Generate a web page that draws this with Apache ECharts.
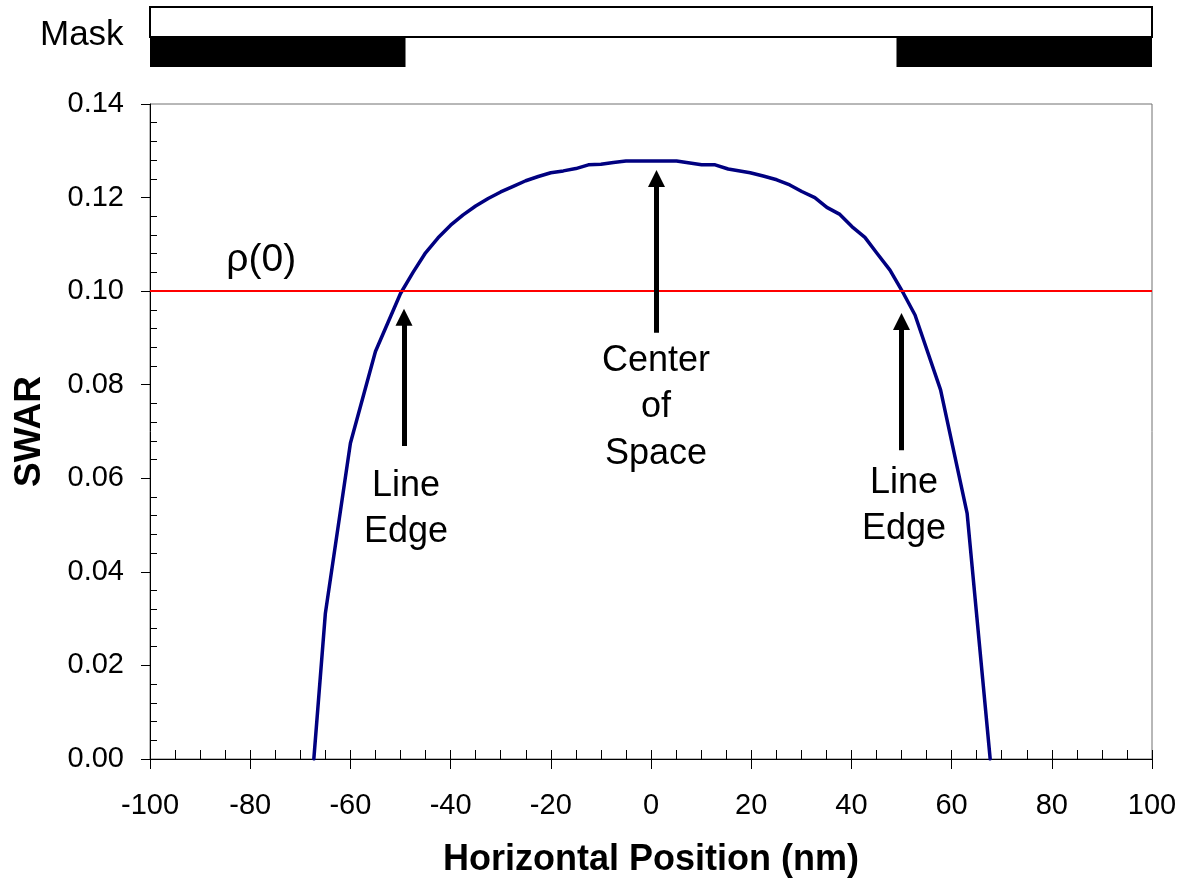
<!DOCTYPE html>
<html><head><meta charset="utf-8">
<script src="https://cdn.jsdelivr.net/npm/echarts@6/dist/echarts.min.js"></script>
<style>html,body{margin:0;padding:0;background:#fff}#c{width:1188px;height:884px}</style>
</head><body><div id="c"></div>
<script>
// ---- data ----
const positionNm = [-67.3, -65.0, -60.0, -55.0, -50.0, -47.5, -45.0, -42.5, -40.0, -37.5, -35.0, -32.5, -30.0, -27.5, -25.0, -22.5, -20.0, -17.5, -15.0, -12.5, -10.0, -7.5, -5.0, -2.5, 0.0, 2.5, 5.1, 10.1, 12.8, 15.4, 19.8, 22.4, 25.1, 27.7, 30.1, 32.7, 35.1, 37.7, 40.1, 42.7, 45.1, 47.7, 50.4, 52.7, 57.8, 63.1, 67.7];
const swar = [0.0, 0.0311, 0.0675, 0.0871, 0.0995, 0.1040, 0.1082, 0.1114, 0.1141, 0.1163, 0.1182, 0.1198, 0.1212, 0.1224, 0.1236, 0.1245, 0.1253, 0.1257, 0.1262, 0.1270, 0.1271, 0.1275, 0.1278, 0.1278, 0.1278, 0.1278, 0.1278, 0.1270, 0.1270, 0.1261, 0.1253, 0.1246, 0.1238, 0.1227, 0.1213, 0.1200, 0.1179, 0.1164, 0.1138, 0.1115, 0.1081, 0.1045, 0.0995, 0.0949, 0.0789, 0.0525, 0.0];
const rho0 = 0.10;
const xRange = [-100, 100];
const yRange = [0, 0.14];
const maskBand = [-100, 100];
const maskOpaque = [[-100, -49], [49, 100]];
const arrowX = [-49.3, 1.1, 50.0];
const arrowFrom = [0.0669, 0.0911, 0.0660];
const arrowTo = [0.0944, 0.1241, 0.0935];
const noteText = ['Line\nEdge', 'Center\nof\nSpace', 'Line\nEdge', 'ρ(0)'];
const noteX = [-48.9, 1.0, 50.5, -77.8];
const noteY = [0.0533, 0.0751, 0.0539, 0.1064];

// ---- chart ----
const FONT = '"Liberation Sans", Arial, sans-serif';
const chart = echarts.init(document.getElementById('c'), null, {renderer: 'canvas'});
const G = {left: 150, right: 36, top: 104, bottom: 125};
const lineCurve = positionNm.map((x, i) => [x, swar[i]]);
const maskData = [[maskBand[0], maskBand[1], 1, 2, 0]].concat(maskOpaque.map(s => [s[0], s[1], 0, 1, 1]));
const arrowLines = arrowX.map((x, i) => [{coord: [x, arrowFrom[i]]}, {coord: [x, arrowTo[i]]}]);
const notes = noteText.map((t, i) => ({value: [noteX[i], noteY[i]], name: t,
  label: {fontSize: t.indexOf('ρ') >= 0 ? 39 : 36}}));

chart.setOption({
  animation: false,
  textStyle: {fontFamily: FONT, color: '#000'},
  grid: [
    Object.assign({show: true, borderColor: '#707070', borderWidth: 1, backgroundColor: 'transparent'}, G),
    Object.assign({show: false}, G),
    {left: 150, right: 36, top: 7, height: 60, show: false}
  ],
  xAxis: [
    {gridIndex: 0, type: 'value', min: xRange[0], max: xRange[1], interval: 20,
     name: 'Horizontal Position (nm)', nameLocation: 'middle', nameGap: 83,
     nameTextStyle: {fontSize: 36, fontWeight: 'bold', color: '#000', fontFamily: FONT},
     axisLine: {show: true, onZero: false, lineStyle: {color: '#000', width: 1}},
     axisTick: {show: true, inside: false, length: 10, lineStyle: {color: '#000', width: 1}},
     axisLabel: {fontSize: 29, color: '#000', margin: 32, fontFamily: FONT},
     splitLine: {show: false}},
    {gridIndex: 1, type: 'value', min: xRange[0], max: xRange[1], interval: 20,
     axisLine: {show: false, onZero: false},
     axisTick: {show: true, inside: true, length: 9, lineStyle: {color: '#000', width: 1}},
     minorTick: {show: true, splitNumber: 4, length: 9, lineStyle: {color: '#000', width: 1}},
     axisLabel: {show: false}, splitLine: {show: false}},
    {gridIndex: 2, type: 'value', min: xRange[0], max: xRange[1], show: false}
  ],
  yAxis: [
    {gridIndex: 0, type: 'value', min: yRange[0], max: yRange[1], interval: 0.02,
     name: 'SWAR', nameLocation: 'middle', nameGap: 102, nameRotate: 90,
     nameTextStyle: {fontSize: 37, fontWeight: 'bold', color: '#000', fontFamily: FONT},
     axisLine: {show: true, onZero: false, lineStyle: {color: '#000', width: 1}},
     axisTick: {show: true, inside: false, length: 9, lineStyle: {color: '#000', width: 1}},
     axisLabel: {fontSize: 29, color: '#000', margin: 26, fontFamily: FONT, formatter: v => v.toFixed(2)},
     splitLine: {show: false}},
    {gridIndex: 1, type: 'value', min: yRange[0], max: yRange[1], interval: 0.02,
     axisLine: {show: false, onZero: false},
     axisTick: {show: false, inside: true},
     minorTick: {show: true, splitNumber: 5, length: 7, lineStyle: {color: '#000', width: 1}},
     axisLabel: {show: false}, splitLine: {show: false}},
    {gridIndex: 2, type: 'value', min: 0, max: 2, show: false}
  ],
  graphic: [{
    type: 'text', left: 40, top: 18,
    style: {text: 'Mask', font: '35px ' + FONT, fill: '#000'}
  }],
  series: [
    {type: 'line', xAxisIndex: 0, yAxisIndex: 0, data: lineCurve, showSymbol: false, symbol: 'none',
     lineStyle: {color: '#000080', width: 3.5, cap: 'round', join: 'round'}, z: 2, silent: true,
     markLine: {silent: true, symbol: ['none', 'none'], label: {show: false}, z: 3,
       lineStyle: {color: '#ff0000', width: 2, type: 'solid'},
       data: [{yAxis: rho0}]}},
    {type: 'line', xAxisIndex: 0, yAxisIndex: 0, data: [], z: 4, silent: true,
     markLine: {silent: true, symbol: ['none', 'triangle'], symbolSize: 17, label: {show: false},
       lineStyle: {color: '#000', width: 5, type: 'solid'}, itemStyle: {color: '#000'},
       emphasis: {disabled: true}, data: arrowLines}},
    {type: 'scatter', xAxisIndex: 0, yAxisIndex: 0, data: notes, symbolSize: 1, silent: true, z: 5,
     itemStyle: {color: '#fff', opacity: 0},
     label: {show: true, position: 'top', distance: 0, formatter: p => p.name, fontSize: 36, lineHeight: 46.5,
       color: '#000', opacity: 1, textBorderWidth: 0, fontFamily: FONT, align: 'center', verticalAlign: 'middle'}},
    {type: 'custom', xAxisIndex: 2, yAxisIndex: 2, data: maskData, silent: true,
     renderItem: function (params, api) {
       const p0 = api.coord([api.value(0), api.value(3)]);
       const p1 = api.coord([api.value(1), api.value(2)]);
       const opaque = api.value(4) === 1;
       return {type: 'rect', shape: {x: p0[0], y: p0[1], width: p1[0] - p0[0], height: p1[1] - p0[1]},
         style: opaque ? {fill: '#000'} : {fill: '#fff', stroke: '#000', lineWidth: 2}};
     }}
  ]
});
</script></body></html>
